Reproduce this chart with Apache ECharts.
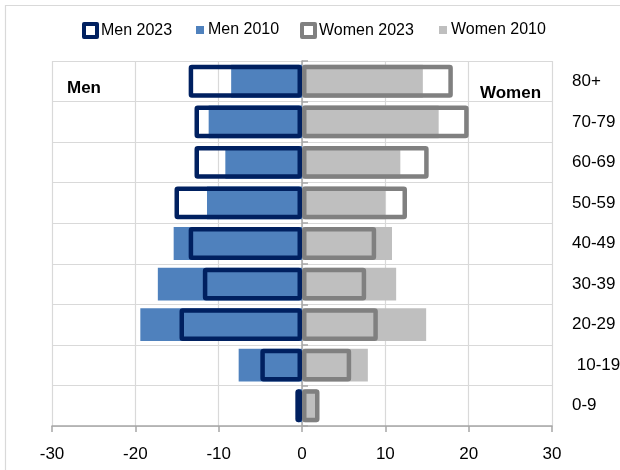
<!DOCTYPE html>
<html>
<head>
<meta charset="utf-8">
<script src="https://cdn.jsdelivr.net/npm/echarts@6/dist/echarts.min.js"></script>
<style>html,body{margin:0;padding:0;background:#fff;}#c{width:620px;height:470px;}</style>
</head>
<body>
<div id="c"></div>
<script>
// Age groups, bottom to top
const ageGroups = ['0-9', '10-19', '20-29', '30-39', '40-49', '50-59', '60-69', '70-79', '80+'];
// Values (men shown as negative)
const men2023   = [-0.8, -5.0, -14.7, -11.9, -13.6, -15.3, -12.9, -12.9, -13.6];
const men2010   = [-0.5, -7.6, -19.4, -17.3, -15.4, -11.4, -9.2, -11.2, -8.5];
const women2023 = [2.1, 5.9, 9.1, 7.7, 8.9, 12.6, 15.2, 20.0, 18.1];
const women2010 = [1.8, 7.9, 14.9, 11.3, 10.8, 10.0, 11.8, 16.4, 14.5];
const xTicks = { min: -30, max: 30, interval: 10 };

const FONT = "'Liberation Sans', Arial, sans-serif";
const chart = echarts.init(document.getElementById('c'), null, { renderer: 'canvas' });

function legendItem(name, left, size, style) {
  return {
    left: left, top: 22, itemWidth: size, itemHeight: size, itemGap: 0, padding: 0,
    icon: 'rect', selectedMode: false,
    textStyle: { fontFamily: FONT, fontSize: 16, color: '#000', padding: [0, 0, 0, -1] },
    data: [{ name: name, itemStyle: style }]
  };
}

const barW = '81%';
chart.setOption({
  animation: false,
  backgroundColor: '#fff',
  textStyle: { fontFamily: FONT },
  legend: [
    legendItem('Men 2023', 82, 13, { color: '#fff', borderColor: '#002060', borderWidth: 4 }),
    legendItem('Men 2010', 196, 8, { color: '#4f81bd', borderWidth: 0 }),
    legendItem('Women 2023', 300, 13, { color: '#fff', borderColor: '#808080', borderWidth: 4 }),
    legendItem('Women 2010', 439, 8, { color: '#bfbfbf', borderWidth: 0 })
  ],
  grid: { left: 52, right: 68, top: 61, bottom: 44, containLabel: false, outerBoundsMode: 'none' },
  xAxis: {
    type: 'value', min: xTicks.min, max: xTicks.max, interval: xTicks.interval,
    axisLine: { show: true, onZero: false, lineStyle: { color: '#a6a6a6', width: 1.5 } },
    axisTick: { show: true, length: 6, lineStyle: { color: '#a6a6a6', width: 1.5 } },
    axisLabel: { fontFamily: FONT, fontSize: 17, color: '#000', margin: 20 },
    splitLine: { show: true, lineStyle: { color: '#d9d9d9', width: 1.2 } }
  },
  yAxis: [
    {
      type: 'category', data: ageGroups, position: 'left',
      axisLine: { show: true, onZero: true, lineStyle: { color: '#a6a6a6', width: 1.5 } },
      axisTick: { show: true, inside: true, length: 6, lineStyle: { color: '#a6a6a6', width: 1.5 } },
      axisLabel: { show: false },
      splitLine: { show: true, lineStyle: { color: '#d9d9d9', width: 1.2 } }
    },
    {
      type: 'category', data: ageGroups, position: 'right',
      axisLine: { show: false }, axisTick: { show: false }, splitLine: { show: false },
      axisLabel: { show: true, fontFamily: FONT, fontSize: 17, color: '#000', margin: 20, align: 'left',
        formatter: v => v === '10-19' ? ' ' + v : v }
    }
  ],
  series: [
    { name: 'Men 2010', type: 'bar', data: men2010, barWidth: barW, barGap: '-100%', z: 2,
      itemStyle: { color: '#4f81bd' } },
    { name: 'Women 2010', type: 'bar', data: women2010, barWidth: barW, barGap: '-100%', z: 2,
      itemStyle: { color: '#bfbfbf' } },
    { name: 'Men 2023', type: 'bar', data: men2023, barWidth: barW, barGap: '-100%', z: 3,
      itemStyle: { color: 'rgba(0,0,0,0)', borderColor: '#002060', borderWidth: 4.5, borderJoin: 'round', borderRadius: 1 } },
    { name: 'Women 2023', type: 'bar', data: women2023, barWidth: barW, barGap: '-100%', z: 3,
      itemStyle: { color: 'rgba(0,0,0,0)', borderColor: '#808080', borderWidth: 4.5, borderJoin: 'round', borderRadius: 1 } }
  ],
  graphic: [
    { type: 'rect', left: 3, top: 3, z: -10, silent: true,
      shape: { width: 700, height: 600 }, style: { fill: 'none', stroke: '#d9d9d9', lineWidth: 1.2 } },
    { type: 'text', left: 67, top: 80, z: 10,
      style: { text: 'Men', font: "bold 17px " + FONT, fill: '#000' } },
    { type: 'text', left: 480, top: 85, z: 10,
      style: { text: 'Women', font: "bold 17px " + FONT, fill: '#000' } }
  ]
});
</script>
</body>
</html>
